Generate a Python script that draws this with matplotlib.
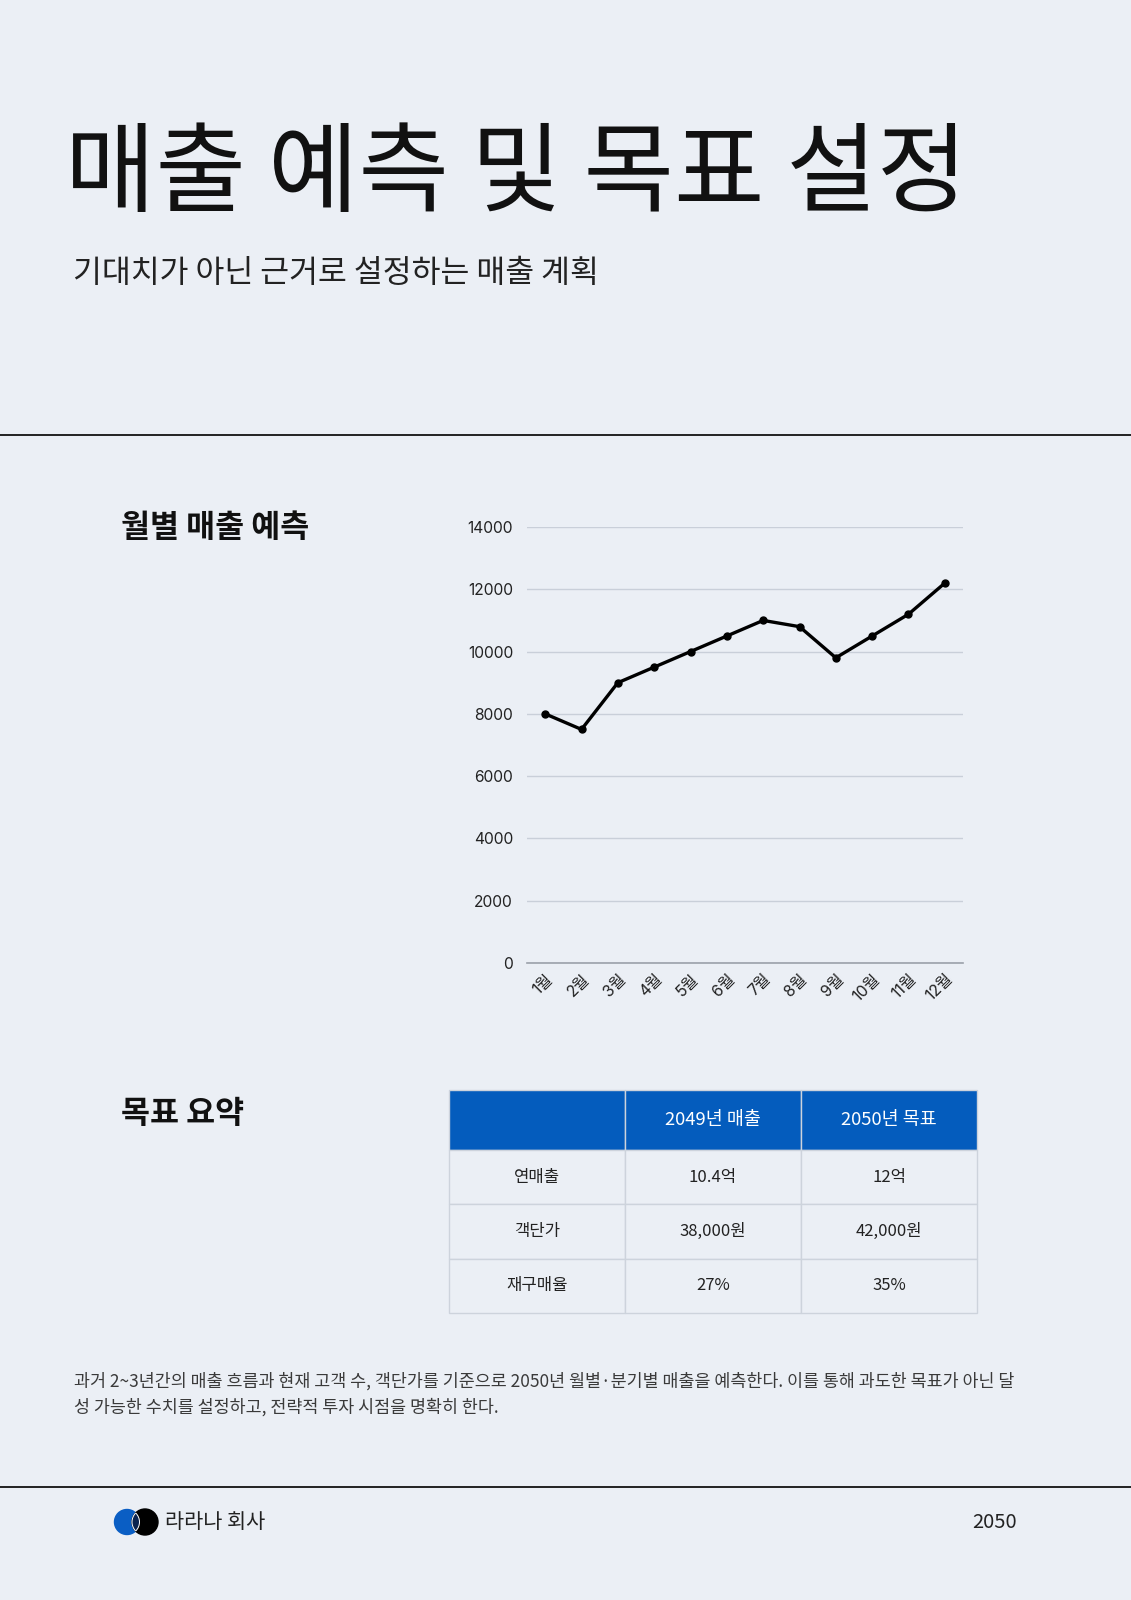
import matplotlib
matplotlib.use('Agg')
import matplotlib.pyplot as plt
from matplotlib.patches import Circle

plt.rcParams['font.family'] = ['Noto Sans CJK KR', 'DejaVu Sans']

# data
months = ["1월", "2월", "3월", "4월", "5월", "6월", "7월", "8월", "9월", "10월", "11월", "12월"]
sales = [8000, 7500, 9000, 9500, 10000, 10500, 11000, 10800, 9800, 10500, 11200, 12200]
y_ticks = [0, 2000, 4000, 6000, 8000, 10000, 12000, 14000]

table_cols = ["", "2049년 매출", "2050년 목표"]
table_rows = [
    ["연매출", "10.4억", "12억"],
    ["객단가", "38,000원", "42,000원"],
    ["재구매율", "27%", "35%"],
]

title = "매출 예측 및 목표 설정"
subtitle = "기대치가 아닌 근거로 설정하는 매출 계획"
note_lines = [
    "과거 2~3년간의 매출 흐름과 현재 고객 수, 객단가를 기준으로 2050년 월별·분기별 매출을 예측한다. 이를 통해 과도한 목표가 아닌 달",
    "성 가능한 수치를 설정하고, 전략적 투자 시점을 명확히 한다.",
]

BG = "#EBEFF5"
BLUE = "#045CBD"
W, H = 1131, 1600
NUM_FONT = ['Inter', 'Noto Sans CJK KR']


def fx(x):
    return x / W


def fy(y):
    return 1 - y / H


fig = plt.figure(figsize=(W / 100, H / 100), dpi=100, facecolor=BG)

# header texts
fig.text(fx(65), fy(176), title, fontsize=70.8, color="#111111", va="center", ha="left")
fig.text(fx(73), fy(273), subtitle, fontsize=22.6, color="#222222", va="center", ha="left")

# separators
fig.add_artist(plt.Line2D([0, 1], [fy(435), fy(435)], color="#222222", lw=1.4))
fig.add_artist(plt.Line2D([0, 1], [fy(1487), fy(1487)], color="#222222", lw=1.4))

# section headings
fig.text(fx(121), fy(528), "월별 매출 예측", fontsize=22.7, fontweight="bold", color="#111111", va="center")
fig.text(fx(121), fy(1114), "목표 요약", fontsize=22.7, fontweight="bold", color="#111111", va="center")

# line chart
ax = fig.add_axes([fx(527), fy(963), (963 - 527) / W, (963 - 527) / H])
ax.set_facecolor(BG)
x = list(range(len(months)))
ax.plot(x, sales, color="black", lw=2.4, marker="o", markersize=5, zorder=3)
ax.set_xlim(-0.5, len(months) - 0.5)
ax.set_ylim(0, 14000)
ax.set_yticks(y_ticks)
ax.set_yticklabels([str(v) for v in y_ticks], fontsize=11.2, color="#222222", family=NUM_FONT)
ax.set_xticks(x)
ax.set_xticklabels(months, fontsize=11.5, color="#222222", rotation=45, ha="right",
                   rotation_mode="anchor", family=NUM_FONT)
ax.tick_params(length=0, pad=10)
ax.tick_params(axis="x", pad=6)
ax.grid(axis="y", color="#C9CFD9", lw=1)
ax.set_axisbelow(True)
for s in ["top", "right", "left"]:
    ax.spines[s].set_visible(False)
ax.spines["bottom"].set_color("#9BA1AA")
ax.spines["bottom"].set_linewidth(1.2)

# table
tax = fig.add_axes([fx(449), fy(1313), (977 - 449) / W, (1313 - 1090) / H])
tax.axis("off")
tbl = tax.table(cellText=table_rows, colLabels=table_cols, cellLoc="center", bbox=[0, 0, 1, 1])
tbl.auto_set_font_size(False)
for (r, c), cell in tbl.get_celld().items():
    cell.set_edgecolor("#CDD3DC")
    cell.set_linewidth(1)
    if r == 0:
        cell.set_height(60)
        cell.set_facecolor(BLUE)
        cell.get_text().set_color("white")
        cell.get_text().set_fontsize(13.3)
    else:
        cell.set_height(54.3)
        cell.set_facecolor(BG)
        cell.get_text().set_color("#222222")
        cell.get_text().set_fontsize(12)

# note paragraph
for i, line in enumerate(note_lines):
    fig.text(fx(74), fy(1381 + 26 * i), line, fontsize=12.5, color="#3A3A3A", va="center", ha="left")

# footer logo
lax = fig.add_axes([fx(110), fy(1540), 50 / W, 36 / H])
lax.set_xlim(110, 160)
lax.set_ylim(-18, 18)
lax.set_aspect("equal")
lax.axis("off")
blue_c = Circle((127, 0), 12.5, color="#0A5EC4", zorder=1)
black_c = Circle((145, 0), 13, color="black", zorder=2)
lax.add_patch(blue_c)
lax.add_patch(black_c)
lens = Circle((127, 0), 12.5, facecolor="#0B2450", edgecolor="white", lw=0.7, zorder=3)
lax.add_patch(lens)
lens.set_clip_path(black_c)
edge = Circle((145, 0), 13, facecolor="none", edgecolor="white", lw=0.7, zorder=4)
lax.add_patch(edge)
edge.set_clip_path(Circle((127, 0), 12.5, transform=lax.transData))

fig.text(fx(165), fy(1522), "라라나 회사", fontsize=15, color="#222222", va="center", ha="left")
fig.text(fx(1017), fy(1522), "2050", fontsize=14.5, color="#222222", va="center", ha="right")

fig.savefig("out.png", dpi=100, facecolor=BG)
